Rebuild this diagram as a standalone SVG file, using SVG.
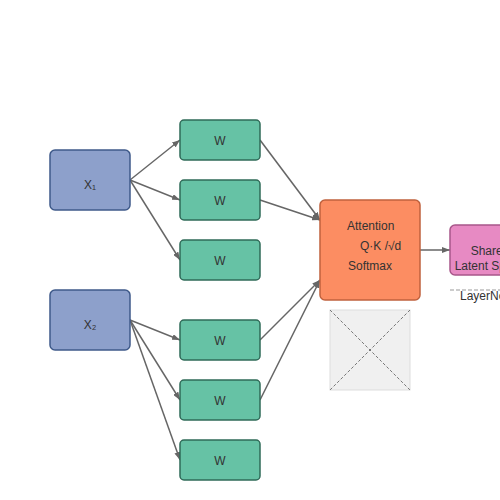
<svg xmlns="http://www.w3.org/2000/svg" width="500" height="500" viewBox="0 0 500 500">
<defs>
<style>
.lbl{font-family:"Liberation Sans",Arial,sans-serif;font-size:12px;fill:#333;}
.edge{stroke:#666;stroke-width:1.5;fill:none;marker-end:url(#arr);}
.x{fill:#8da0cb;stroke:#3f5a8a;stroke-width:1.5;}
.w{fill:#66c2a5;stroke:#2f6b58;stroke-width:1.5;}
</style>
<marker id="arr" markerWidth="8" markerHeight="6" refX="8" refY="3" orient="auto" markerUnits="userSpaceOnUse">
<path d="M0,0 L8,3 L0,6 Z" fill="#666"/>
</marker>
</defs>
<rect width="500" height="500" fill="#fff"/>
<g id="connectors">
<line class="edge" x1="130" y1="180" x2="180" y2="140"/>
<line class="edge" x1="130" y1="180" x2="180" y2="200"/>
<line class="edge" x1="130" y1="180" x2="180" y2="260"/>
<line class="edge" x1="130" y1="320" x2="180" y2="340"/>
<line class="edge" x1="130" y1="320" x2="180" y2="400"/>
<line class="edge" x1="130" y1="320" x2="180" y2="460"/>
<line class="edge" x1="260" y1="140" x2="320" y2="220"/>
<line class="edge" x1="260" y1="200" x2="320" y2="220"/>
<line class="edge" x1="260" y1="340" x2="320" y2="280"/>
<line class="edge" x1="260" y1="400" x2="320" y2="280"/>
<line class="edge" x1="420" y1="250" x2="450" y2="250"/>
</g>
<g id="x1"><rect class="x" x="50" y="150" width="80" height="60" rx="5"/><text class="lbl" x="90" y="189" text-anchor="middle">X₁</text></g>
<g id="x2"><rect class="x" x="50" y="290" width="80" height="60" rx="5"/><text class="lbl" x="90" y="329" text-anchor="middle">X₂</text></g>
<g id="w1"><rect class="w" x="180" y="120" width="80" height="40" rx="4"/><text class="lbl" x="220" y="145" text-anchor="middle">W</text></g>
<g id="w2"><rect class="w" x="180" y="180" width="80" height="40" rx="4"/><text class="lbl" x="220" y="205" text-anchor="middle">W</text></g>
<g id="w3"><rect class="w" x="180" y="240" width="80" height="40" rx="4"/><text class="lbl" x="220" y="265" text-anchor="middle">W</text></g>
<g id="w4"><rect class="w" x="180" y="320" width="80" height="40" rx="4"/><text class="lbl" x="220" y="345" text-anchor="middle">W</text></g>
<g id="w5"><rect class="w" x="180" y="380" width="80" height="40" rx="4"/><text class="lbl" x="220" y="405" text-anchor="middle">W</text></g>
<g id="w6"><rect class="w" x="180" y="440" width="80" height="40" rx="4"/><text class="lbl" x="220" y="465" text-anchor="middle">W</text></g>
<g id="attention">
<rect x="320" y="200" width="100" height="100" rx="5" fill="#fc8d62" stroke="#c0623e" stroke-width="1.5"/>
<text class="lbl" x="347" y="230">Attention</text>
<text class="lbl" x="360" y="250">Q·K /√d</text>
<text class="lbl" x="348" y="270">Softmax</text>
</g>
<g id="placeholder">
<rect x="330" y="310" width="80" height="80" fill="#f0f0f0" stroke="#ddd" stroke-width="1"/>
<line x1="330" y1="310" x2="410" y2="390" stroke="#777" stroke-width="1" stroke-dasharray="3,2"/>
<line x1="410" y1="310" x2="330" y2="390" stroke="#777" stroke-width="1" stroke-dasharray="3,2"/>
</g>
<g id="shared">
<rect x="450" y="225" width="80" height="50" rx="5" fill="#e78ac3" stroke="#a8578a" stroke-width="1.5"/>
<text class="lbl" x="490" y="255" text-anchor="middle">Shared</text>
<text class="lbl" x="490" y="270" text-anchor="middle">Latent Space</text>
</g>
<g id="layernorm">
<line x1="450" y1="290" x2="530" y2="290" stroke="#999" stroke-width="1" stroke-dasharray="4,2"/>
<text class="lbl" x="460" y="300">LayerNorm</text>
</g>
</svg>
